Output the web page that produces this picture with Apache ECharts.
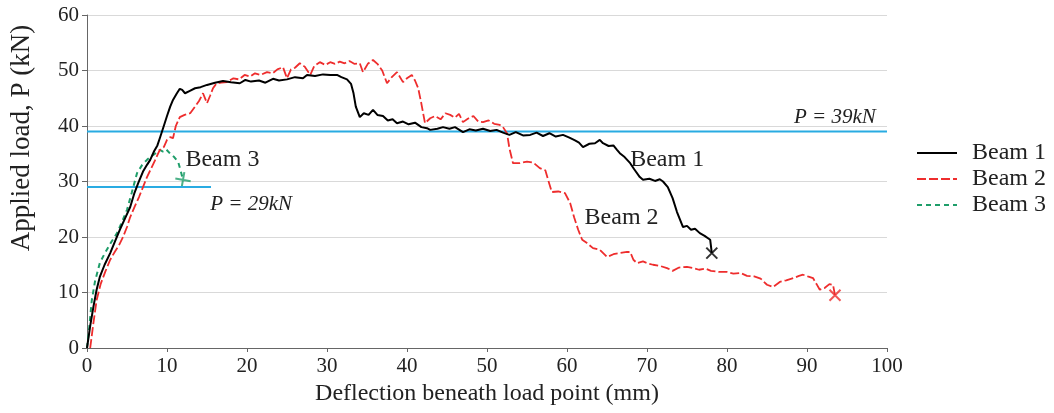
<!DOCTYPE html>
<html>
<head>
<meta charset="utf-8">
<script src="https://cdn.jsdelivr.net/npm/echarts@6/dist/echarts.min.js"></script>
<style>
html, body { margin: 0; padding: 0; background: #fff; }
#chart { width: 1054px; height: 413px; }
</style>
</head>
<body>
<div id="chart"></div>
<script>
// deflection (mm), load (kN)
const beam1 = [
  [0,0],[0.4,4],[0.8,7.4],[1.2,10.5],[1.6,12.8],[2.2,15],[2.9,17.1],[3.5,19.2],[4.1,21.3],[4.8,23.5],
  [5.4,25.4],[5.9,27.8],[6.4,29.7],[7,31.8],[7.5,33],[7.9,33.9],[8.4,35.5],[8.8,36.5],[9.1,37.8],[9.6,40],
  [10,41.8],[10.4,43.5],[10.75,44.7],[11.2,45.8],[11.6,46.7],[11.9,46.5],[12.25,45.9],[12.8,46.3],[13.5,46.8],[14.2,47],
  [15,47.4],[16,47.8],[17,48.1],[18,47.9],[19.1,47.7],[19.8,48.3],[20.5,48],[21.5,48.2],[22.3,47.8],[23.25,48.5],
  [24,48.2],[25,48.4],[26,48.8],[27,48.6],[27.5,49.2],[28.5,49],[29.5,49.3],[30.4,49.2],[31.25,49.2],[31.8,48.8],
  [32.5,48.4],[33,47.6],[33.3,46],[33.6,43.5],[34.1,41.6],[34.6,42.3],[35.2,42],[35.75,42.9],[36.3,42],[37,41.8],
  [37.6,41],[38.2,41.2],[38.75,40.5],[39.5,40.8],[40.2,40.3],[41,40.6],[41.8,39.8],[42.5,39.6],[42.9,39.3],[43.8,39.5],
  [44.5,39.8],[45.3,39.5],[46,39.8],[47,38.9],[47.8,39.4],[48.6,39.2],[49.5,39.5],[50.4,39.1],[51.2,39.3],[52,38.8],
  [52.8,38.4],[53.6,38.9],[54.5,38.3],[55.4,38.4],[56.2,38.8],[57,38.2],[57.8,38.7],[58.6,38.1],[59.5,38.4],[60.3,37.9],
  [61,37.4],[61.5,37],[62,36.2],[62.8,36.8],[63.5,36.9],[64.1,37.5],[64.5,36.9],[65.2,36.4],[65.8,36.5],[66.25,35.7],
  [66.6,35.1],[67.2,34.4],[67.9,33.3],[68.4,32.2],[69.1,30.8],[69.5,30.3],[70.3,30.5],[71,30.1],[71.6,30.4],[72,30],
  [72.6,29],[73.2,27],[73.75,24.5],[74.5,21.8],[75,22],[75.5,21.3],[76,21.5],[76.6,20.7],[77.2,20.2],[77.9,19.5],
  [78.1,17.1]
];
const beam2 = [
  [0.4,0],[0.8,4.5],[1.2,8.6],[1.7,11.5],[2.3,13.8],[2.9,15.9],[3.5,17.4],[4,18.5],[4.5,20],[5,21.8],
  [5.4,23.6],[6,25.6],[6.5,27.2],[7,29],[7.5,30.8],[7.9,32],[8.5,33.8],[9.1,35.7],[9.6,36.2],[10,37.5],
  [10.4,38],[10.75,37.8],[11.1,40],[11.6,41.6],[12.2,42],[12.9,42.3],[13.5,43.5],[14,44.5],[14.5,45.9],[15,44.1],
  [15.4,45.5],[15.75,46.8],[16.2,47.7],[16.8,47.8],[17.5,47.9],[18.3,48.6],[19,48.4],[19.7,49.2],[20.4,48.9],[21,49.5],
  [21.7,49.2],[22.5,49.7],[23.2,49.5],[23.8,50.2],[24.5,50.6],[25,48.6],[25.5,50.2],[26,50.5],[26.6,51.3],[27.2,50.7],
  [27.9,49.2],[28.4,50.8],[29.1,51.5],[29.8,51],[30.4,51.5],[31,51.2],[31.6,51.6],[32.2,51.3],[32.8,51.7],[33.4,51.2],
  [34.1,51.3],[34.5,49.7],[35.1,51.2],[35.75,51.9],[36.3,51.2],[36.9,50],[37.5,47.7],[38.1,48.8],[38.75,49.7],[39.5,47.9],
  [40,48.6],[40.6,49.2],[41,48.2],[41.4,46.8],[41.8,44],[42.25,40.5],[42.9,41.4],[43.5,41.8],[44.2,41.2],[44.8,42.3],
  [45.4,42],[46,41.5],[46.5,42.2],[47,40.7],[47.6,41.3],[48.3,41.8],[48.9,40.8],[49.5,40.7],[50.2,41],[50.9,40.4],
  [51.6,40.2],[52,39.8],[52.5,38.7],[52.8,36],[53.25,33.3],[54.1,33.3],[55,33.6],[55.8,33.4],[56.6,32.4],[57.3,32],
  [57.7,30],[58.1,28.1],[58.9,28.2],[59.75,27.9],[60.4,26.1],[60.9,23.5],[61.4,21.3],[61.9,19.5],[62.5,18.9],[63.25,18],
  [64.1,17.7],[65,16.4],[65.8,16.9],[66.6,17.1],[67.5,17.3],[67.9,17.3],[68.3,15.9],[68.75,15.3],[69.5,15.6],[70.2,15.2],
  [70.75,15],[71.6,14.8],[72.5,14.4],[73.2,13.9],[74,14.5],[75,14.6],[75.75,14.4],[76.5,14.1],[77.3,14.3],[78,13.9],
  [79.1,13.7],[80,13.7],[80.8,13.4],[81.7,13.5],[82.5,13],[83.4,12.9],[84.2,12.5],[85,11.4],[85.75,11],[86.6,11.9],
  [87.4,12.2],[88.3,12.6],[89,13],[89.5,13.2],[90.1,12.9],[90.75,12.6],[91.2,11.5],[91.6,10.5],[92.2,10.8],[92.8,11.5],
  [93.25,11.4],[93.5,9.5]
];
const beam3 = [
  [0,0],[0.3,4],[0.6,8.6],[1,12],[1.6,15.3],[2.2,17],[3,19],[3.75,20.7],[4.4,22.8],[5,24.9],
  [5.6,28],[6.25,31.5],[6.9,33],[7.5,33.9],[7.9,34.4],[8.5,35],[9.1,35.7],[9.5,35.4],[9.9,35.8],[10.4,35],
  [10.9,34.4],[11.4,33.5],[11.7,32],[12,30.3]
];
const p39 = [[0,39],[100,39]];
const p29 = [[0,29],[15.5,29]];
const seriesNames = ['Beam 1', 'Beam 2', 'Beam 3'];
const notes = [
  { text: 'Beam 1', at: [67.9, 33.9], align: 'left' },
  { text: 'Beam 2', at: [62.2, 23.4], align: 'left' },
  { text: 'Beam 3', at: [12.3, 33.9], align: 'left' },
  { text: 'P = 39kN', at: [98.6, 41.5], align: 'right', italic: true },
  { text: 'P = 29kN', at: [15.4, 25.8], align: 'left', italic: true }
];

const serif = '"Liberation Serif", "Times New Roman", serif';
const cross = 'path://M0,0L10,10M10,0L0,10';
const last = function (a) { return [a[a.length - 1]]; };

const chart = echarts.init(document.getElementById('chart'));
chart.setOption({
  animation: false,
  grid: { left: 87, right: 167, top: 15, bottom: 65 },
  legend: {
    data: seriesNames,
    orient: 'vertical',
    left: 911,
    top: 136,
    itemWidth: 40,
    itemHeight: 14,
    itemGap: 2,
    itemStyle: { opacity: 0 },
    textStyle: { fontFamily: serif, fontSize: 24, color: '#222', padding: [0, 0, 0, 10] }
  },
  xAxis: {
    type: 'value', min: 0, max: 100, interval: 10,
    axisLine: { lineStyle: { color: '#666', width: 1 } },
    axisTick: { show: true, length: 4, lineStyle: { color: '#666' } },
    axisLabel: { fontFamily: serif, fontSize: 21, color: '#222', margin: 8 },
    splitLine: { show: false },
    name: 'Deflection beneath load point (mm)',
    nameLocation: 'middle', nameGap: 34,
    nameTextStyle: { fontFamily: serif, fontSize: 24, color: '#222' }
  },
  yAxis: {
    type: 'value', min: 0, max: 60, interval: 10,
    axisLine: { show: true, lineStyle: { color: '#666', width: 1 } },
    axisTick: { show: true, length: 5, lineStyle: { color: '#666' } },
    axisLabel: { fontFamily: serif, fontSize: 21, color: '#222', margin: 8 },
    splitLine: { lineStyle: { color: '#d9d9d9', width: 1 } }
  },
  series: [
    { name: 'p39', type: 'line', data: p39, symbol: 'none', silent: true,
      lineStyle: { color: '#29abe2', width: 2 } },
    { name: 'p29', type: 'line', data: p29, symbol: 'none', silent: true,
      lineStyle: { color: '#29abe2', width: 2 } },
    { name: 'Beam 3', type: 'line', data: beam3, symbol: 'none',
      itemStyle: { color: '#1f9e6a' },
      lineStyle: { color: '#1f9e6a', width: 2, type: [5, 4] } },
    { name: 'Beam 2', type: 'line', data: beam2, symbol: 'none',
      itemStyle: { color: '#ee2d2d' },
      lineStyle: { color: '#ee2d2d', width: 1.8, type: [9, 3] } },
    { name: 'Beam 1', type: 'line', data: beam1, symbol: 'none',
      itemStyle: { color: '#000' },
      lineStyle: { color: '#000', width: 2 } },
    { name: 'end1', type: 'scatter', data: last(beam1), symbol: cross, symbolSize: 11,
      itemStyle: { color: 'transparent', borderColor: '#000', borderWidth: 2 } },
    { name: 'end2', type: 'scatter', data: last(beam2), symbol: cross, symbolSize: 11,
      itemStyle: { color: 'transparent', borderColor: '#ee2d2d', borderWidth: 2 } },
    { name: 'end3', type: 'scatter', data: last(beam3), symbol: cross, symbolSize: 11, symbolRotate: 35,
      itemStyle: { color: 'transparent', borderColor: '#1f9e6a', borderWidth: 2 } }
  ]
});

// text notes placed in data units, y-axis title
const graphics = notes.map(function (n) {
  const p = chart.convertToPixel({ gridIndex: 0 }, n.at);
  return {
    type: 'text', x: p[0], y: p[1],
    style: {
      text: n.text, fill: '#222', align: n.align, verticalAlign: 'middle',
      font: (n.italic ? 'italic 21px ' : '24px ') + serif
    }
  };
});
graphics.push({
  type: 'text', x: 22, y: 138, rotation: Math.PI / 2,
  style: { text: 'Applied load, P (kN)', fill: '#222', align: 'center', verticalAlign: 'middle', font: '27px ' + serif }
});
chart.setOption({ graphic: graphics });

window.onresize = function () {
  chart.resize();
};
</script>
</body>
</html>
